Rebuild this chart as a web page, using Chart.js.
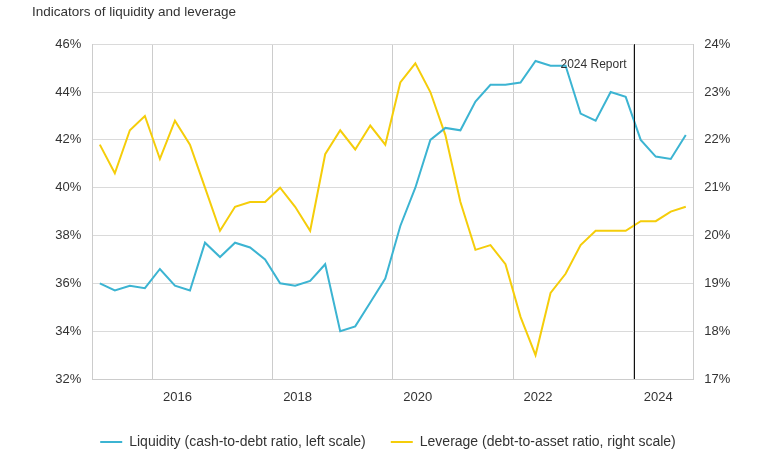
<!DOCTYPE html>
<html>
<head>
<meta charset="utf-8">
<title>Indicators of liquidity and leverage</title>
<script src="https://cdn.jsdelivr.net/npm/chart.js@4/dist/chart.umd.min.js"></script>
<style>
  html, body { margin: 0; padding: 0; background: #ffffff; overflow: hidden; }
  #chart-container { width: 760px; height: 459px; }
</style>
</head>
<body>
<div id="chart-container"><canvas id="lineChart" width="760" height="459"></canvas></div>
<script>
// Quarter ends, 2014 Q3 to 2024 Q2
const quarters = [
  '2014-Q3', '2014-Q4',
  '2015-Q1', '2015-Q2', '2015-Q3', '2015-Q4',
  '2016-Q1', '2016-Q2', '2016-Q3', '2016-Q4',
  '2017-Q1', '2017-Q2', '2017-Q3', '2017-Q4',
  '2018-Q1', '2018-Q2', '2018-Q3', '2018-Q4',
  '2019-Q1', '2019-Q2', '2019-Q3', '2019-Q4',
  '2020-Q1', '2020-Q2', '2020-Q3', '2020-Q4',
  '2021-Q1', '2021-Q2', '2021-Q3', '2021-Q4',
  '2022-Q1', '2022-Q2', '2022-Q3', '2022-Q4',
  '2023-Q1', '2023-Q2', '2023-Q3', '2023-Q4',
  '2024-Q1', '2024-Q2'
];

// Liquidity (cash-to-debt ratio, %), left scale
const liquidity = [
  36.0, 35.7,
  35.9, 35.8, 36.6, 35.9,
  35.7, 37.7, 37.1, 37.7,
  37.5, 37.0, 36.0, 35.9,
  36.1, 36.8, 34.0, 34.2,
  35.2, 36.2, 38.4, 40.0,
  42.0, 42.5, 42.4, 43.6,
  44.3, 44.3, 44.4, 45.3,
  45.1, 45.1, 43.1, 42.8,
  44.0, 43.8, 42.0, 41.3,
  41.2, 42.2
];

// Leverage (debt-to-asset ratio, %), right scale
const leverage = [
  21.9, 21.3,
  22.2, 22.5, 21.6, 22.4,
  21.9, 21.0, 20.1, 20.6,
  20.7, 20.7, 21.0, 20.6,
  20.1, 21.7, 22.2, 21.8,
  22.3, 21.9, 23.2, 23.6,
  23.0, 22.1, 20.7, 19.7,
  19.8, 19.4, 18.3, 17.5,
  18.8, 19.2, 19.8, 20.1,
  20.1, 20.1, 20.3, 20.3,
  20.5, 20.6
];

// x axis: grid lines every two years, year labels beside them
const gridPositions = [2015.625, 2017.625, 2019.625, 2021.625, 2023.625];
const yearLabels = ['2016', '2018', '2020', '2022', '2024'];

// vertical marker
const reportPosition = 2023.64;
const reportLabel = '2024 Report';

// quarter string -> decimal year at quarter end
function quarterToX(q) {
  const year = parseInt(q.slice(0, 4), 10);
  const n = parseInt(q.slice(6), 10);
  return year + n * 0.25;
}

const xValues = quarters.map(quarterToX);

const textColor = '#333333';
const fontFamily = "'Liberation Sans', Arial, sans-serif";

// Draws the report marker line and its label
const reportLine = {
  id: 'reportLine',
  afterDatasetsDraw(chart) {
    const { ctx, chartArea } = chart;
    const x = Math.floor(chart.scales.x.getPixelForValue(reportPosition)) + 0.5; // crisp 1px line
    ctx.save();
    ctx.beginPath();
    ctx.strokeStyle = '#111111';
    ctx.lineWidth = 1;
    ctx.moveTo(x, chartArea.top);
    ctx.lineTo(x, chartArea.bottom);
    ctx.stroke();
    ctx.fillStyle = textColor;
    ctx.font = '12px ' + fontFamily;
    ctx.textAlign = 'right';
    ctx.textBaseline = 'middle';
    ctx.fillText(reportLabel, x - 8, chartArea.top + 20);
    ctx.restore();
  }
};

const ctx = document.getElementById('lineChart').getContext('2d');

const lineChart = new Chart(ctx, {
  type: 'line',
  data: {
    datasets: [
      {
        label: 'Liquidity (cash-to-debt ratio, left scale)',
        data: xValues.map((x, i) => ({ x: x, y: liquidity[i] })),
        borderColor: '#3cb4d2',
        backgroundColor: '#3cb4d2',
        borderWidth: 2,
        pointRadius: 0,
        tension: 0,
        fill: false,
        yAxisID: 'y',
      },
      {
        label: 'Leverage (debt-to-asset ratio, right scale)',
        data: xValues.map((x, i) => ({ x: x, y: leverage[i] })),
        borderColor: '#f5cd0a',
        backgroundColor: '#f5cd0a',
        borderWidth: 2,
        pointRadius: 0,
        tension: 0,
        fill: false,
        yAxisID: 'y1',
      },
    ],
  },
  options: {
    responsive: false,
    maintainAspectRatio: false,
    animation: false,
    devicePixelRatio: 1,
    layout: {
      padding: { left: 32, right: 16, top: 0, bottom: 0 },
    },
    scales: {
      x: {
        type: 'linear',
        position: 'bottom',
        min: 2014.625,
        max: 2024.625,
        afterBuildTicks: function(axis) {
          axis.ticks = gridPositions.map(v => ({ value: v }));
        },
        afterFit: function(axis) {
          axis.height = 31;
        },
        grid: {
          color: '#cccccc',
          drawTicks: false,
        },
        border: { display: true, color: '#cccccc' },
        ticks: {
          color: textColor,
          font: { size: 13, family: fontFamily },
          padding: 11,
          labelOffset: 25,
          maxRotation: 0,
          autoSkip: false,
          callback: function(value, index) {
            return yearLabels[index];
          },
        },
      },
      y: {
        type: 'linear',
        position: 'left',
        min: 32,
        max: 46,
        afterFit: function(axis) {
          axis.width = 60.3;
        },
        grid: {
          color: '#dadada',
          drawTicks: false,
        },
        border: { display: true, color: '#cccccc' },
        ticks: {
          stepSize: 2,
          color: textColor,
          font: { size: 13, family: fontFamily },
          padding: 11,
          callback: function(value) {
            return value + '%';
          },
        },
      },
      y1: {
        type: 'linear',
        position: 'right',
        min: 17,
        max: 24,
        afterFit: function(axis) {
          axis.width = 50.7;
        },
        grid: {
          drawOnChartArea: false,
          drawTicks: false,
        },
        border: { display: true, color: '#cccccc' },
        ticks: {
          stepSize: 1,
          color: textColor,
          font: { size: 13, family: fontFamily },
          padding: 11,
          callback: function(value) {
            return value + '%';
          },
        },
      },
    },
    plugins: {
      title: {
        display: true,
        text: 'Indicators of liquidity and leverage',
        align: 'start',
        color: textColor,
        font: { size: 13.5, weight: 'normal', family: fontFamily },
        padding: { top: 4, bottom: 24 },
      },
      legend: {
        position: 'bottom',
        labels: {
          usePointStyle: true,
          pointStyle: 'line',
          pointStyleWidth: 22,
          color: textColor,
          font: { size: 14, family: fontFamily },
          padding: 25,
        },
      },
      tooltip: { enabled: false },
    },
  },
  plugins: [reportLine],
});
</script>
</body>
</html>
